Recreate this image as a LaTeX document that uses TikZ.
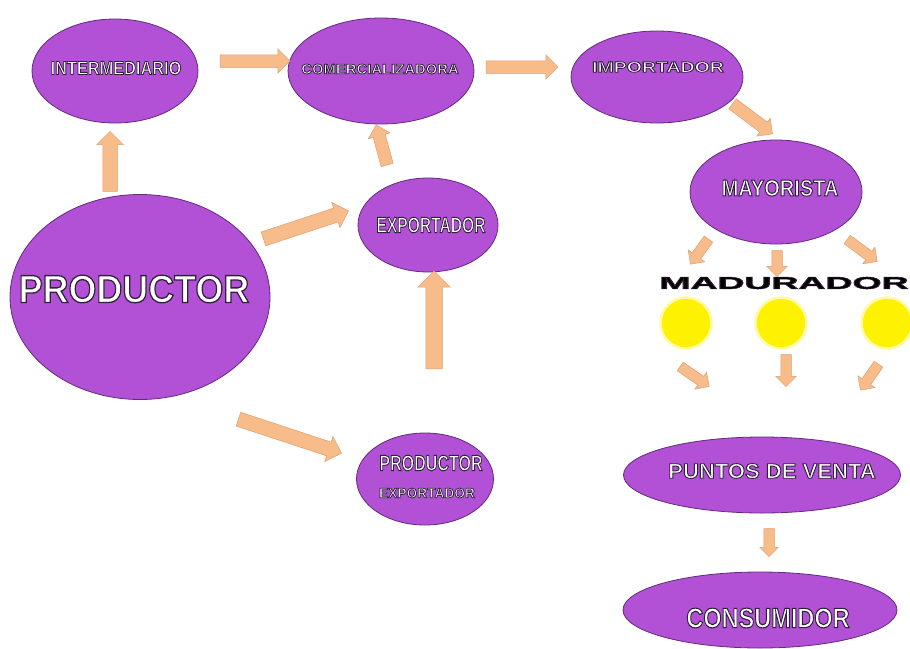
\documentclass[tikz,border=0pt]{standalone}
\usepackage{fontspec}
\setmainfont{Liberation Sans}
\usepackage{graphicx}
\usetikzlibrary{shapes.geometric,shapes.arrows,calc}

\definecolor{bubble}{RGB}{178,80,214}
\definecolor{bubbleedge}{RGB}{100,42,125}
\definecolor{arrowfill}{RGB}{247,188,138}
\definecolor{arrowedge}{RGB}{222,160,112}
\definecolor{lampcol}{RGB}{255,242,0}

% glyphs filled with the current colour and stroked with a dark edge
\newcommand\edged[2]{\special{pdf:literal direct 2 Tr #1 w 0.19 0.13 0.23 RG}#2\special{pdf:literal direct 0 Tr}}
% outlined white caption: size (pt), horizontal scale, edge width, text
\newcommand\lbl[4]{\scalebox{#2}[1]{\fontsize{#1}{#1}\selectfont\bfseries\edged{#3}{#4}}}
% block arrow node #1 from coordinate #2 to coordinate #3,
% shaft half-width #4, head overhang #5
\newcommand\flow[5]{%
  \path let \p1=($(#3)-(#2)$) in
    node[flowarrow, inner ysep=#4, single arrow head extend=#5,
         minimum height={veclen(\x1,\y1)}, rotate={atan2(\y1,\x1)}]
    (#1) at ($(#2)!0.5!(#3)$) {};}

\tikzset{
  stage/.style={ellipse, fill=bubble, draw=bubbleedge, line width=0.8pt, inner sep=0pt},
  tag/.style={text=white, inner sep=0pt, anchor=center},
  flowarrow/.style={single arrow, fill=arrowfill, draw=arrowedge, line width=0.5pt,
    single arrow tip angle=90, single arrow head indent=0pt,
    inner xsep=0pt, minimum width=0pt},
  lamp/.style={circle, fill=lampcol, draw=lampcol!35, line width=2.5pt,
    inner sep=0pt, minimum size=51pt}
}

\begin{document}
\begin{tikzpicture}[x=1pt,y=-1pt]
\fill[white] (0,0) rectangle (910,648);
\useasboundingbox (0,0) rectangle (910,648);

% chain stages
\node[stage, minimum width=166, minimum height=104] (inter)  at (115,71)  {};
\node[stage, minimum width=186, minimum height=106] (comer)  at (381,71)  {};
\node[stage, minimum width=172, minimum height=92]  (impor)  at (657,77)  {};
\node[stage, minimum width=172, minimum height=104] (mayor)  at (776,192) {};
\node[stage, minimum width=140, minimum height=94]  (expor)  at (428,225) {};
\node[stage, minimum width=260, minimum height=205] (prod)   at (140,297) {};
\node[stage, minimum width=137, minimum height=92]  (prodex) at (425,479) {};
\node[stage, minimum width=277, minimum height=76]  (puntos) at (762,475) {};
\node[stage, minimum width=274, minimum height=76]  (consum) at (760,610) {};

% captions
\node[tag] (t-inter)  at (116,68)  {\lbl{19}{0.86}{0.9}{INTERMEDIARIO}};
\node[tag] (t-comer)  at (380,69)  {\lbl{14}{1.06}{0.8}{COMERCIALIZADORA}};
\node[tag] (t-impor)  at (658,67)  {\lbl{15}{1.3}{0.8}{IMPORTADOR}};
\node[tag] (t-mayor)  at (780,188) {\lbl{23}{0.87}{1.0}{MAYORISTA}};
\node[tag] (t-expor)  at (431,225) {\lbl{22}{0.71}{1.0}{EXPORTADOR}};
\node[tag] (t-prod)   at (134,289) {\lbl{39}{0.92}{1.3}{PRODUCTOR}};
\node[tag] (t-prodex1) at (431,463) {\lbl{22}{0.73}{1.0}{PRODUCTOR}};
\node[tag] (t-prodex2) at (427,493) {\lbl{14}{0.98}{0.8}{EXPORTADOR}};
\node[tag] (t-puntos) at (772,471) {\lbl{21}{1.05}{0.9}{PUNTOS DE VENTA}};
\node[tag] (t-consum) at (768,618) {\lbl{28}{0.84}{1.1}{CONSUMIDOR}};

% ripening stage
\node[inner sep=0pt] (madur) at (784,283)
  {\scalebox{2.2}[1]{\fontsize{17}{17}\selectfont\bfseries\edged{0.5}{MADURADOR}}};
\node[lamp] (lamp1) at (686,323) {};
\node[lamp] (lamp2) at (781,323) {};
\node[lamp] (lamp3) at (887,323) {};

% arrow end points
\coordinate (prod-n)   at (110,195);  \coordinate (inter-s)  at (110,135);
\coordinate (inter-e)  at (217,61);   \coordinate (comer-w)  at (287,61);
\coordinate (comer-e)  at (483,67);   \coordinate (impor-w)  at (555,67);
\coordinate (impor-se) at (730,102);  \coordinate (mayor-nw) at (770,132);
\coordinate (prod-ne)  at (260,240);  \coordinate (expor-w)  at (345,212);
\coordinate (expor-n)  at (388,168);  \coordinate (comer-s)  at (377,128);
\coordinate (feed)     at (434,373);  \coordinate (expor-s)  at (434,275);
\coordinate (prod-se)  at (235,418);  \coordinate (prodex-w) at (338,452);
\coordinate (mayor-sw) at (710,237);  \coordinate (madur-1)  at (692,262);
\coordinate (mayor-s)  at (777,248);  \coordinate (madur-2)  at (777,274);
\coordinate (mayor-se) at (845,238);  \coordinate (madur-3)  at (875,260);
\coordinate (lamp1-s)  at (678,365);  \coordinate (out-1)    at (707,385);
\coordinate (lamp2-s)  at (786,352);  \coordinate (out-2)    at (786,384);
\coordinate (lamp3-s)  at (880,362);  \coordinate (out-3)    at (862,388);
\coordinate (puntos-s) at (769,526);  \coordinate (consum-n) at (769,554);

% block arrows
\flow{f1}{prod-n}{inter-s}{7pt}{6pt}
\flow{f2}{inter-e}{comer-w}{6pt}{6pt}
\flow{f3}{comer-e}{impor-w}{6pt}{6pt}
\flow{f4}{impor-se}{mayor-nw}{6pt}{5pt}
\flow{f5}{prod-ne}{expor-w}{7pt}{6pt}
\flow{f6}{expor-n}{comer-s}{6pt}{5pt}
\flow{f7}{feed}{expor-s}{8pt}{8pt}
\flow{f8}{prod-se}{prodex-w}{7pt}{6pt}
\flow{f9}{mayor-sw}{madur-1}{5pt}{5pt}
\flow{f10}{mayor-s}{madur-2}{5pt}{5pt}
\flow{f11}{mayor-se}{madur-3}{5pt}{5pt}
\flow{f12}{lamp1-s}{out-1}{5pt}{5pt}
\flow{f13}{lamp2-s}{out-2}{5pt}{5pt}
\flow{f14}{lamp3-s}{out-3}{5pt}{5pt}
\flow{f15}{puntos-s}{consum-n}{5pt}{4pt}
\end{tikzpicture}
\end{document}
